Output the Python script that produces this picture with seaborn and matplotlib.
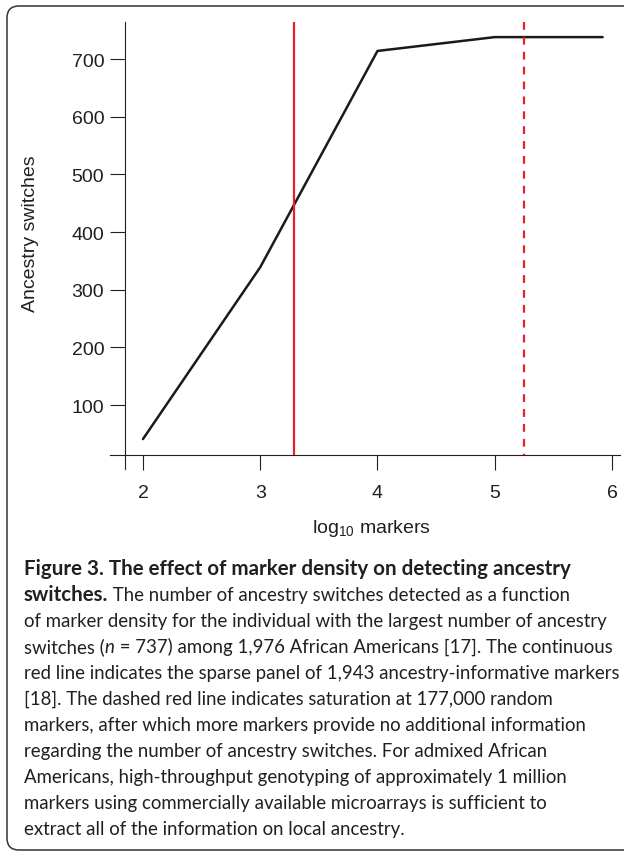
import numpy as np
import pandas as pd
import seaborn as sns
from matplotlib import pyplot as plt
from matplotlib.patches import FancyBboxPatch

# values
log_markers = [2, 3, 4, 5, 5.92]
switches = [41, 339, 714, 738, 738]
panel_sizes = [1943, 177000]        # solid line: AIM panel, dashed line: saturation
x_ticks = [2, 3, 4, 5, 6]
y_ticks = [100, 200, 300, 400, 500, 600, 700]

# caption, one entry per printed line: (text, weight, style)
caption_lines = [
    [("Figure 3. The effect of marker density on detecting ancestry", "bold", "normal")],
    [("switches.", "bold", "normal"),
     (" The number of ancestry switches detected as a function", "normal", "normal")],
    [("of marker density for the individual with the largest number of ancestry", "normal", "normal")],
    [("switches (", "normal", "normal"), ("n", "normal", "italic"),
     (" = 737) among 1,976 African Americans [17]. The continuous", "normal", "normal")],
    [("red line indicates the sparse panel of 1,943 ancestry-informative markers", "normal", "normal")],
    [("[18]. The dashed red line indicates saturation at 177,000 random", "normal", "normal")],
    [("markers, after which more markers provide no additional information", "normal", "normal")],
    [("regarding the number of ancestry switches. For admixed African", "normal", "normal")],
    [("Americans, high-throughput genotyping of approximately 1 million", "normal", "normal")],
    [("markers using commercially available microarrays is sufficient to", "normal", "normal")],
    [("extract all of the information on local ancestry.", "normal", "normal")],
]

ink = "#231F20"
red = "#E8202A"
axis_font = ["Liberation Sans", "DejaVu Sans"]
cap_font = ["Lato", "DejaVu Sans"]

sns.set_style("ticks")
plt.rcParams["font.family"] = axis_font
plt.rcParams["mathtext.default"] = "regular"

W, H = 624, 854
fig = plt.figure(figsize=(W / 100, H / 100), dpi=100)

# rounded frame around figure + caption (right side runs off the page)
frame = FancyBboxPatch((0.07, 0.03), 6.4, 8.44,
                       boxstyle="round,pad=0,rounding_size=0.12",
                       transform=fig.dpi_scale_trans, fill=False,
                       edgecolor="#333333", linewidth=1.1)
fig.patches.append(frame)

ax = fig.add_axes([110 / W, 1 - 470 / H, 510 / W, 447 / H])
ax.set_facecolor("none")

df = pd.DataFrame({"log10 markers": log_markers, "switches": switches})
sns.lineplot(data=df, x="log10 markers", y="switches", ax=ax,
             color="#1a1a1a", linewidth=1.8, zorder=2)

y_top = 764.2
ax.set_xlim(1.719, 6.068)
ax.set_ylim(-10.9, y_top)

base_y = 13.4
panel_x = np.log10(panel_sizes)
ax.vlines(panel_x[0], y_top, base_y, color=red, linewidth=1.6, zorder=3)
ax.vlines(panel_x[1], y_top, base_y, color=red, linewidth=1.6,
          linestyles=(0, (3.5, 3.2)), zorder=3)

# R-style crossing axes
for side in ["top", "right"]:
    ax.spines[side].set_visible(False)
ax.spines["left"].set_position(("data", 1.846))
ax.spines["bottom"].set_position(("data", base_y))
for side in ["left", "bottom"]:
    ax.spines[side].set_linewidth(0.8)
    ax.spines[side].set_color(ink)

ax.set_xticks(x_ticks)
ax.set_yticks(y_ticks)
ax.tick_params(direction="out", length=10.5, width=0.8, color=ink,
               labelcolor=ink, labelsize=14)
ax.tick_params(axis="x", pad=10.5)
ax.tick_params(axis="y", pad=4.3)
for lbl in ax.get_xticklabels() + ax.get_yticklabels():
    lbl.set_family(axis_font)
ax.set_xlabel("")
ax.set_ylabel("")

fig.text(31 / W, 1 - 233.5 / H, "Ancestry switches", rotation=90,
         ha="center", va="center", fontsize=14, color=ink, family=axis_font)
fig.text(372 / W, 1 - 533 / H, r"log$_{10}$ markers", ha="center",
         va="baseline", fontsize=14, color=ink, family=axis_font)

# caption, fitted to the printed line widths
renderer = fig.canvas.get_renderer()


def text_width(s, **kw):
    t = fig.text(0, 0, s, family=cap_font, **kw)
    w = t.get_window_extent(renderer).width
    t.remove()
    return w


reg_size = 12 * 580 / text_width(caption_lines[2][0][0], fontsize=12)
bold_size = 12 * 543 / text_width(caption_lines[0][0][0], fontsize=12, fontweight="bold")

for i, line in enumerate(caption_lines):
    x = 24
    y = 575 + 26 * i
    for txt, weight, style in line:
        size = bold_size if weight == "bold" else reg_size
        t = fig.text(x / W, 1 - y / H, txt, family=cap_font, fontsize=size,
                     fontweight=weight, fontstyle=style, va="baseline",
                     ha="left", color=ink)
        x = t.get_window_extent(renderer).x1

fig.savefig("out.png", dpi=100)
